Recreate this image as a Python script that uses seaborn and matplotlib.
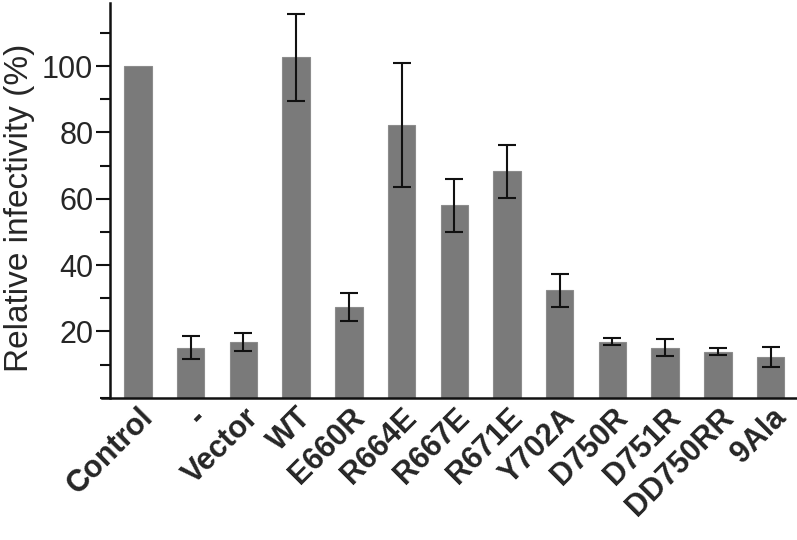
import matplotlib as mpl
mpl.use("Agg")
import matplotlib.pyplot as plt
import matplotlib.transforms as mtransforms
import seaborn as sns
import pandas as pd
import numpy as np
from matplotlib.ticker import MultipleLocator

# values
constructs = ["Control", "-", "Vector", "WT", "E660R", "R664E", "R667E",
              "R671E", "Y702A", "D750R", "D751R", "DD750RR", "9Ala"]
infectivity = [100, 15.1, 16.8, 102.6, 27.4, 82.2, 58.0, 68.3, 32.4, 16.9,
               15.1, 13.9, 12.4]
sem = [0, 3.5, 2.7, 13.0, 4.3, 18.8, 8.0, 8.0, 5.0, 1.1, 2.5, 1.0, 3.0]

frame = pd.DataFrame({"construct": constructs, "infectivity": infectivity})

sns.set_style("ticks")
plt.rcParams["font.family"] = ["Liberation Sans", "DejaVu Sans"]

fig = plt.figure(figsize=(7.97, 5.40), dpi=100)
ax = fig.add_axes([0.128, 0.2634, 0.872, 0.731])

sns.barplot(data=frame, x="construct", y="infectivity", color="#7a7a7a",
            saturation=1, width=0.52, ax=ax, errorbar=None,
            edgecolor="#8c8c8c", linewidth=0.8)

# error bars (control has none)
xs = np.arange(len(constructs))
has_err = np.array(sem) > 0
ax.errorbar(xs[has_err], np.array(infectivity)[has_err],
            yerr=np.array(sem)[has_err], fmt="none", ecolor="#111111",
            elinewidth=1.5, capsize=6.5, capthick=1.5)

ax.set_xlim(-0.68, 12.5)
ax.set_ylim(0, 119)
ax.spines["left"].set_position(("data", -0.53))
ax.spines["left"].set_bounds(0, 119)
ax.spines["top"].set_visible(False)
ax.spines["right"].set_visible(False)
for side in ["left", "bottom"]:
    ax.spines[side].set_linewidth(1.8)
    ax.spines[side].set_color("#111111")

ax.set_yticks([20, 40, 60, 80, 100])
ax.yaxis.set_minor_locator(MultipleLocator(10))
ax.tick_params(axis="y", which="major", length=10, width=1.5,
               labelsize=22, pad=2, color="#111111")
ax.tick_params(axis="y", which="minor", length=7, width=1.5, color="#111111")
ax.tick_params(axis="x", length=0, pad=11)

ax.set_xticks(xs)
ax.set_xticklabels(constructs, rotation=45, ha="right", va="center",
                   rotation_mode="anchor", fontsize=22, fontweight="bold")
# nudge rotated labels right a little
shift = mtransforms.ScaledTranslation(8 / 72, 0, fig.dpi_scale_trans)
for lab in ax.get_xticklabels():
    lab.set_transform(lab.get_transform() + shift)

ax.set_xlabel("")
ax.set_ylabel("Relative infectivity (%)", fontsize=24)
ax.yaxis.set_label_coords(-0.096, 0.482)

fig.savefig("out.png", dpi=100)
